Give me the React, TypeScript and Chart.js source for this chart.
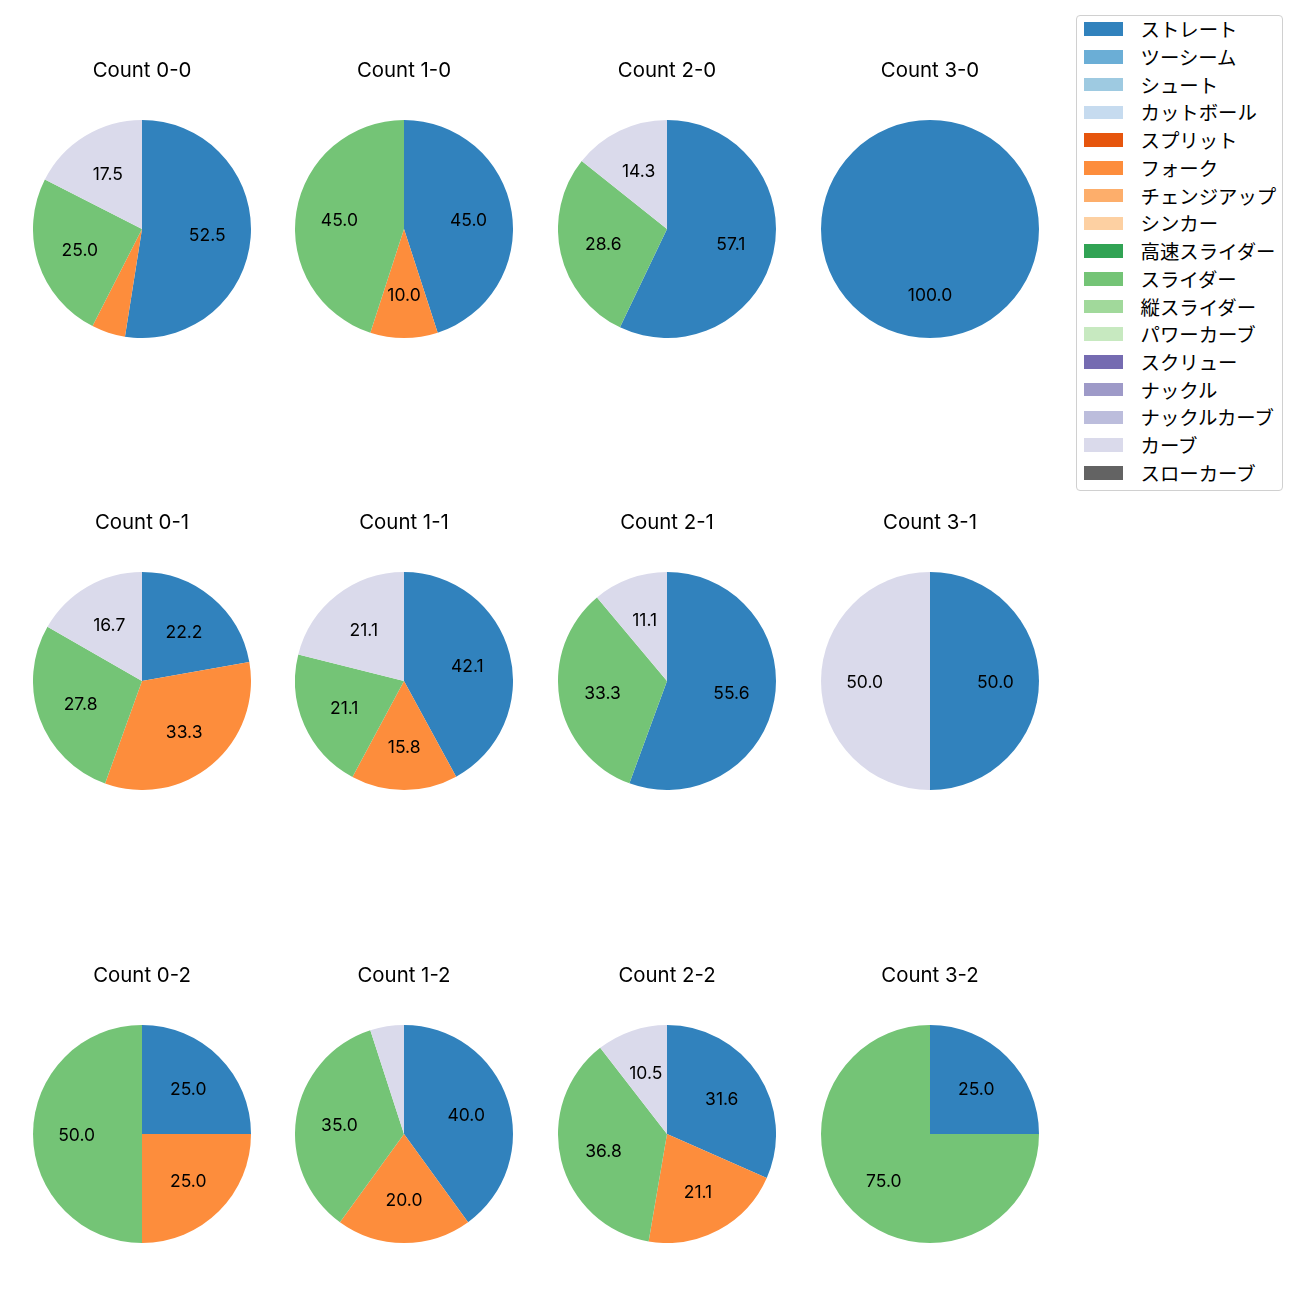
import React, { useEffect, useRef } from "react";
import { Chart, registerables } from "chart.js";
Chart.register(...registerables);

const FONT = '"Noto Sans CJK JP", "Noto Sans", sans-serif';
const LATIN_FONT = 'Inter, "Noto Sans", sans-serif';
const FS = 19.4;
const TITLE_FS = 20.4;
const PCT_FS = 17.5;

const pitchTypes = [
  "ストレート", "ツーシーム", "シュート", "カットボール", "スプリット", "フォーク",
  "チェンジアップ", "シンカー", "高速スライダー", "スライダー", "縦スライダー",
  "パワーカーブ", "スクリュー", "ナックル", "ナックルカーブ", "カーブ", "スローカーブ",
];
const pitchColors = [
  "#3182bd", "#6baed6", "#9ecae1", "#c6dbef", "#e6550d", "#fd8d3c", "#fdae6b",
  "#fdd0a2", "#31a354", "#74c476", "#a1d99b", "#c7e9c0", "#756bb1", "#9e9ac8",
  "#bcbddc", "#dadaeb", "#636363",
];

const countTitles = [
  "Count 0-0", "Count 1-0", "Count 2-0", "Count 3-0",
  "Count 0-1", "Count 1-1", "Count 2-1", "Count 3-1",
  "Count 0-2", "Count 1-2", "Count 2-2", "Count 3-2",
];

// percentages per pitch type (order of pitchTypes)
const count00 = [52.5, 0, 0, 0, 0, 5.0, 0, 0, 0, 25.0, 0, 0, 0, 0, 0, 17.5, 0];
const count10 = [45.0, 0, 0, 0, 0, 10.0, 0, 0, 0, 45.0, 0, 0, 0, 0, 0, 0, 0];
const count20 = [57.1, 0, 0, 0, 0, 0, 0, 0, 0, 28.6, 0, 0, 0, 0, 0, 14.3, 0];
const count30 = [100.0, 0, 0, 0, 0, 0, 0, 0, 0, 0, 0, 0, 0, 0, 0, 0, 0];
const count01 = [22.2, 0, 0, 0, 0, 33.3, 0, 0, 0, 27.8, 0, 0, 0, 0, 0, 16.7, 0];
const count11 = [42.1, 0, 0, 0, 0, 15.8, 0, 0, 0, 21.1, 0, 0, 0, 0, 0, 21.1, 0];
const count21 = [55.6, 0, 0, 0, 0, 0, 0, 0, 0, 33.3, 0, 0, 0, 0, 0, 11.1, 0];
const count31 = [50.0, 0, 0, 0, 0, 0, 0, 0, 0, 0, 0, 0, 0, 0, 0, 50.0, 0];
const count02 = [25.0, 0, 0, 0, 0, 25.0, 0, 0, 0, 50.0, 0, 0, 0, 0, 0, 0, 0];
const count12 = [40.0, 0, 0, 0, 0, 20.0, 0, 0, 0, 35.0, 0, 0, 0, 0, 0, 5.0, 0];
const count22 = [31.6, 0, 0, 0, 0, 21.1, 0, 0, 0, 36.8, 0, 0, 0, 0, 0, 10.5, 0];
const count32 = [25.0, 0, 0, 0, 0, 0, 0, 0, 0, 75.0, 0, 0, 0, 0, 0, 0, 0];

const countSeries = [
  count00, count10, count20, count30,
  count01, count11, count21, count31,
  count02, count12, count22, count32,
];

const colCenters = [142, 404, 667, 930];
const rowCenters = [229, 681, 1134];
const R = 109;
const TOP_SPACE = 65; // canvas top to pie top
const PT = 3.5;
const PB = TOP_SPACE - PT - TITLE_FS * 1.2;

const pctPlugin = {
  id: "pctLabels",
  afterDatasetsDraw(chart: any) {
    const ctx = chart.ctx;
    const meta = chart.getDatasetMeta(0);
    const data = chart.data.datasets[0].data as number[];
    const total = data.reduce((a, b) => a + b, 0);
    ctx.save();
    ctx.font = `${PCT_FS}px ${LATIN_FONT}`;
    ctx.fillStyle = "#000";
    ctx.textAlign = "center";
    ctx.textBaseline = "middle";
    meta.data.forEach((arc: any, i: number) => {
      const pct = (data[i] / total) * 100;
      if (pct <= 5.5) return;
      const mid = (arc.startAngle + arc.endAngle) / 2;
      const rr = arc.outerRadius * 0.6;
      ctx.fillText(pct.toFixed(1), arc.x + Math.cos(mid) * rr, arc.y + Math.sin(mid) * rr + 1.5);
    });
    ctx.restore();
  },
};

function Pie({ title, values, cx, cy }: { title: string; values: number[]; cx: number; cy: number }) {
  const ref = useRef<HTMLCanvasElement>(null);
  const W = 2 * R;
  const H = TOP_SPACE + 2 * R;
  useEffect(() => {
    const chart = new Chart(ref.current!, {
      type: "pie",
      data: {
        labels: pitchTypes,
        datasets: [{ data: values, backgroundColor: pitchColors, borderWidth: 0 }],
      },
      options: {
        animation: false,
        responsive: false,
        events: [],
        layout: { padding: 0 },
        plugins: {
          legend: { display: false },
          tooltip: { enabled: false },
          title: {
            display: true,
            text: title,
            color: "#000",
            font: { family: LATIN_FONT, size: TITLE_FS, weight: "normal", lineHeight: 1.2 },
            padding: { top: PT, bottom: PB },
          },
        },
      } as any,
      plugins: [pctPlugin],
    });
    return () => chart.destroy();
  }, []);
  return (
    <canvas
      ref={ref}
      width={W}
      height={H}
      style={{ position: "absolute", left: cx - R, top: cy - R - TOP_SPACE, width: W, height: H }}
    />
  );
}

function Legend() {
  const left = 1076;
  const top = 15;
  const rowStep = 27.73;
  const firstCenter = 29.2;
  return (
    <div
      style={{
        position: "absolute",
        left,
        top,
        width: 207,
        height: 476,
        border: "1px solid #d0d0d0",
        borderRadius: 4,
        background: "rgba(255,255,255,0.8)",
        boxSizing: "border-box",
      }}
    >
      {pitchTypes.map((name, i) => {
        const cyRow = firstCenter + i * rowStep - top;
        return (
          <React.Fragment key={name}>
            <div
              style={{
                position: "absolute",
                left: 1084 - left - 1,
                top: cyRow - 6.8 - 1,
                width: 38.8,
                height: 13.6,
                background: pitchColors[i],
              }}
            />
            <div
              style={{
                position: "absolute",
                left: 1140.5 - left - 1,
                top: cyRow - 15 - 1,
                height: 30,
                lineHeight: "30px",
                fontFamily: FONT,
                fontSize: FS,
                color: "#000",
                whiteSpace: "nowrap",
              }}
            >
              {name}
            </div>
          </React.Fragment>
        );
      })}
    </div>
  );
}

export default function App() {
  return (
    <div style={{ position: "absolute", left: 0, top: 0, width: 1300, height: 1300, background: "#fff" }}>
      {countTitles.map((t, i) => (
        <Pie
          key={t}
          title={t}
          values={countSeries[i]}
          cx={colCenters[i % 4]}
          cy={rowCenters[Math.floor(i / 4)]}
        />
      ))}
      <Legend />
    </div>
  );
}
